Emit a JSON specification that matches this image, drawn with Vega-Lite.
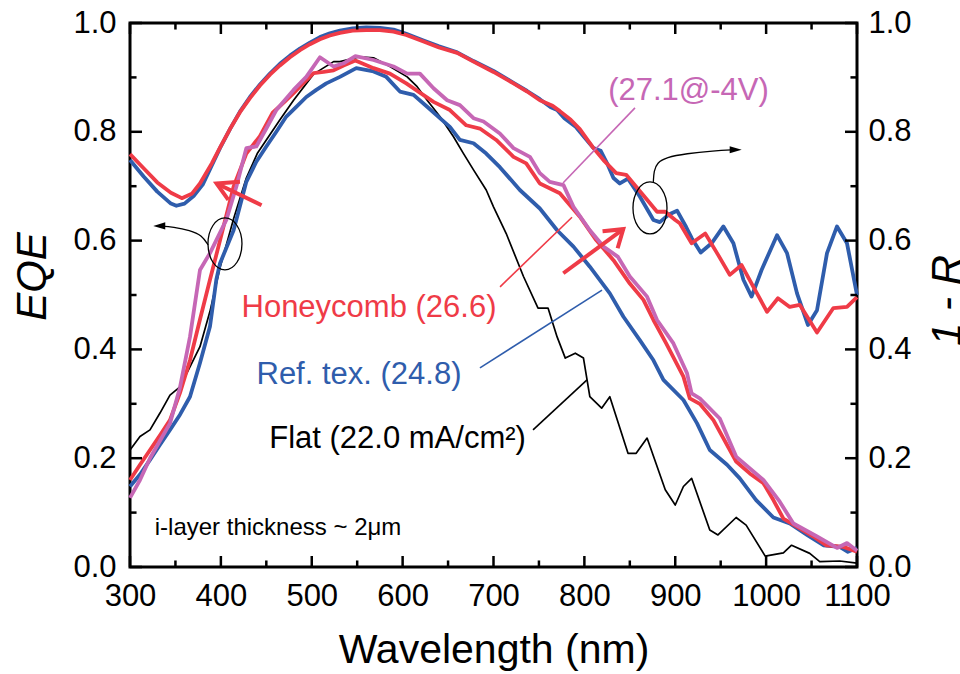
{
"$schema": "https://vega.github.io/schema/vega-lite/v6.json",
"width": 727, "height": 544,
"autosize": {"type": "none"},
"padding": {"left": 130, "top": 23, "right": 103, "bottom": 107},
"background": "white",
"config": {"view": {"stroke": "#000000", "strokeWidth": 3}, "font": "Liberation Sans", "axis": {"grid": false, "tickColor": "#000000", "domainColor": "transparent", "labelColor": "#000000", "titleColor": "#000000"}},
"resolve": {"axis": {"x": "independent", "y": "independent"}},
"datasets": {
"eqe": [
{"s":"flat","wl":300,"v":0.215},{"s":"flat","wl":311,"v":0.240},{"s":"flat","wl":322,"v":0.252},{"s":"flat","wl":333,"v":0.283},{"s":"flat","wl":344,"v":0.316},{"s":"flat","wl":355,"v":0.331},{"s":"flat","wl":366,"v":0.368},{"s":"flat","wl":377,"v":0.405},{"s":"flat","wl":388,"v":0.47},{"s":"flat","wl":399,"v":0.55},{"s":"flat","wl":414,"v":0.64},{"s":"flat","wl":428,"v":0.715},{"s":"flat","wl":440,"v":0.760},{"s":"flat","wl":450,"v":0.785},{"s":"flat","wl":465,"v":0.822},{"s":"flat","wl":480,"v":0.858},{"s":"flat","wl":502,"v":0.906},{"s":"flat","wl":524,"v":0.929},{"s":"flat","wl":531,"v":0.929},{"s":"flat","wl":553,"v":0.938},{"s":"flat","wl":568,"v":0.936},{"s":"flat","wl":586,"v":0.920},{"s":"flat","wl":605,"v":0.901},{"s":"flat","wl":616,"v":0.883},{"s":"flat","wl":627,"v":0.858},{"s":"flat","wl":641,"v":0.828},{"s":"flat","wl":656,"v":0.791},{"s":"flat","wl":667,"v":0.760},{"s":"flat","wl":678,"v":0.730},{"s":"flat","wl":692,"v":0.693},{"s":"flat","wl":700,"v":0.662},{"s":"flat","wl":714,"v":0.613},{"s":"flat","wl":733,"v":0.534},{"s":"flat","wl":749,"v":0.476},{"s":"flat","wl":760,"v":0.476},{"s":"flat","wl":770,"v":0.423},{"s":"flat","wl":779,"v":0.384},{"s":"flat","wl":790,"v":0.393},{"s":"flat","wl":799,"v":0.384},{"s":"flat","wl":806,"v":0.313},{"s":"flat","wl":819,"v":0.292},{"s":"flat","wl":828,"v":0.313},{"s":"flat","wl":848,"v":0.209},{"s":"flat","wl":857,"v":0.209},{"s":"flat","wl":869,"v":0.237},{"s":"flat","wl":889,"v":0.142},{"s":"flat","wl":900,"v":0.114},{"s":"flat","wl":909,"v":0.148},{"s":"flat","wl":918,"v":0.163},{"s":"flat","wl":938,"v":0.068},{"s":"flat","wl":947,"v":0.059},{"s":"flat","wl":967,"v":0.091},{"s":"flat","wl":978,"v":0.077},{"s":"flat","wl":999,"v":0.020},{"s":"flat","wl":1019,"v":0.026},{"s":"flat","wl":1028,"v":0.040},{"s":"flat","wl":1048,"v":0.025},{"s":"flat","wl":1059,"v":0.010},{"s":"flat","wl":1081,"v":0.011},{"s":"flat","wl":1100,"v":0.007},
{"s":"ref","wl":300,"v":0.148},{"s":"ref","wl":311,"v":0.170},{"s":"ref","wl":322,"v":0.197},{"s":"ref","wl":333,"v":0.225},{"s":"ref","wl":344,"v":0.252},{"s":"ref","wl":355,"v":0.280},{"s":"ref","wl":366,"v":0.313},{"s":"ref","wl":377,"v":0.375},{"s":"ref","wl":388,"v":0.442},{"s":"ref","wl":395,"v":0.528},{"s":"ref","wl":399,"v":0.558},{"s":"ref","wl":414,"v":0.619},{"s":"ref","wl":428,"v":0.708},{"s":"ref","wl":439,"v":0.745},{"s":"ref","wl":450,"v":0.773},{"s":"ref","wl":461,"v":0.800},{"s":"ref","wl":472,"v":0.828},{"s":"ref","wl":483,"v":0.846},{"s":"ref","wl":494,"v":0.864},{"s":"ref","wl":505,"v":0.877},{"s":"ref","wl":516,"v":0.889},{"s":"ref","wl":531,"v":0.901},{"s":"ref","wl":549,"v":0.917},{"s":"ref","wl":568,"v":0.911},{"s":"ref","wl":582,"v":0.901},{"s":"ref","wl":597,"v":0.874},{"s":"ref","wl":612,"v":0.868},{"s":"ref","wl":627,"v":0.846},{"s":"ref","wl":641,"v":0.825},{"s":"ref","wl":652,"v":0.809},{"s":"ref","wl":663,"v":0.785},{"s":"ref","wl":678,"v":0.779},{"s":"ref","wl":692,"v":0.760},{"s":"ref","wl":707,"v":0.735},{"s":"ref","wl":729,"v":0.693},{"s":"ref","wl":751,"v":0.659},{"s":"ref","wl":770,"v":0.619},{"s":"ref","wl":788,"v":0.589},{"s":"ref","wl":806,"v":0.552},{"s":"ref","wl":828,"v":0.503},{"s":"ref","wl":843,"v":0.460},{"s":"ref","wl":861,"v":0.417},{"s":"ref","wl":876,"v":0.380},{"s":"ref","wl":887,"v":0.344},{"s":"ref","wl":909,"v":0.307},{"s":"ref","wl":924,"v":0.264},{"s":"ref","wl":938,"v":0.215},{"s":"ref","wl":957,"v":0.188},{"s":"ref","wl":971,"v":0.163},{"s":"ref","wl":989,"v":0.123},{"s":"ref","wl":1008,"v":0.091},{"s":"ref","wl":1026,"v":0.080},{"s":"ref","wl":1045,"v":0.059},{"s":"ref","wl":1063,"v":0.040},{"s":"ref","wl":1081,"v":0.037},{"s":"ref","wl":1090,"v":0.028},{"s":"ref","wl":1100,"v":0.035},
{"s":"honey","wl":300,"v":0.160},{"s":"honey","wl":311,"v":0.188},{"s":"honey","wl":322,"v":0.215},{"s":"honey","wl":333,"v":0.242},{"s":"honey","wl":344,"v":0.270},{"s":"honey","wl":355,"v":0.320},{"s":"honey","wl":366,"v":0.380},{"s":"honey","wl":377,"v":0.455},{"s":"honey","wl":388,"v":0.528},{"s":"honey","wl":399,"v":0.600},{"s":"honey","wl":414,"v":0.699},{"s":"honey","wl":428,"v":0.760},{"s":"honey","wl":443,"v":0.792},{"s":"honey","wl":457,"v":0.835},{"s":"honey","wl":470,"v":0.855},{"s":"honey","wl":480,"v":0.871},{"s":"honey","wl":491,"v":0.890},{"s":"honey","wl":502,"v":0.908},{"s":"honey","wl":513,"v":0.910},{"s":"honey","wl":524,"v":0.913},{"s":"honey","wl":535,"v":0.922},{"s":"honey","wl":548,"v":0.931},{"s":"honey","wl":568,"v":0.917},{"s":"honey","wl":586,"v":0.907},{"s":"honey","wl":604,"v":0.889},{"s":"honey","wl":619,"v":0.872},{"s":"honey","wl":634,"v":0.855},{"s":"honey","wl":652,"v":0.840},{"s":"honey","wl":670,"v":0.812},{"s":"honey","wl":685,"v":0.806},{"s":"honey","wl":703,"v":0.785},{"s":"honey","wl":722,"v":0.754},{"s":"honey","wl":736,"v":0.742},{"s":"honey","wl":751,"v":0.705},{"s":"honey","wl":773,"v":0.687},{"s":"honey","wl":795,"v":0.644},{"s":"honey","wl":813,"v":0.601},{"s":"honey","wl":832,"v":0.564},{"s":"honey","wl":850,"v":0.521},{"s":"honey","wl":865,"v":0.491},{"s":"honey","wl":876,"v":0.454},{"s":"honey","wl":890,"v":0.411},{"s":"honey","wl":909,"v":0.350},{"s":"honey","wl":916,"v":0.310},{"s":"honey","wl":927,"v":0.300},{"s":"honey","wl":942,"v":0.270},{"s":"honey","wl":967,"v":0.194},{"s":"honey","wl":982,"v":0.172},{"s":"honey","wl":997,"v":0.154},{"s":"honey","wl":1008,"v":0.123},{"s":"honey","wl":1019,"v":0.089},{"s":"honey","wl":1037,"v":0.071},{"s":"honey","wl":1052,"v":0.056},{"s":"honey","wl":1066,"v":0.040},{"s":"honey","wl":1085,"v":0.037},{"s":"honey","wl":1100,"v":0.028},
{"s":"bias","wl":300,"v":0.127},{"s":"bias","wl":311,"v":0.160},{"s":"bias","wl":322,"v":0.200},{"s":"bias","wl":333,"v":0.232},{"s":"bias","wl":344,"v":0.264},{"s":"bias","wl":355,"v":0.330},{"s":"bias","wl":366,"v":0.423},{"s":"bias","wl":377,"v":0.546},{"s":"bias","wl":388,"v":0.577},{"s":"bias","wl":406,"v":0.638},{"s":"bias","wl":417,"v":0.699},{"s":"bias","wl":428,"v":0.770},{"s":"bias","wl":439,"v":0.773},{"s":"bias","wl":450,"v":0.806},{"s":"bias","wl":461,"v":0.840},{"s":"bias","wl":480,"v":0.877},{"s":"bias","wl":494,"v":0.901},{"s":"bias","wl":509,"v":0.937},{"s":"bias","wl":524,"v":0.920},{"s":"bias","wl":535,"v":0.926},{"s":"bias","wl":548,"v":0.939},{"s":"bias","wl":568,"v":0.932},{"s":"bias","wl":590,"v":0.920},{"s":"bias","wl":605,"v":0.907},{"s":"bias","wl":619,"v":0.907},{"s":"bias","wl":634,"v":0.880},{"s":"bias","wl":649,"v":0.858},{"s":"bias","wl":663,"v":0.849},{"s":"bias","wl":678,"v":0.825},{"s":"bias","wl":689,"v":0.819},{"s":"bias","wl":707,"v":0.797},{"s":"bias","wl":722,"v":0.770},{"s":"bias","wl":740,"v":0.754},{"s":"bias","wl":751,"v":0.724},{"s":"bias","wl":762,"v":0.708},{"s":"bias","wl":777,"v":0.702},{"s":"bias","wl":788,"v":0.662},{"s":"bias","wl":806,"v":0.619},{"s":"bias","wl":821,"v":0.589},{"s":"bias","wl":837,"v":0.570},{"s":"bias","wl":850,"v":0.534},{"s":"bias","wl":869,"v":0.497},{"s":"bias","wl":880,"v":0.454},{"s":"bias","wl":898,"v":0.411},{"s":"bias","wl":913,"v":0.356},{"s":"bias","wl":918,"v":0.319},{"s":"bias","wl":927,"v":0.310},{"s":"bias","wl":949,"v":0.273},{"s":"bias","wl":967,"v":0.203},{"s":"bias","wl":997,"v":0.160},{"s":"bias","wl":1015,"v":0.120},{"s":"bias","wl":1030,"v":0.080},{"s":"bias","wl":1056,"v":0.056},{"s":"bias","wl":1078,"v":0.035},{"s":"bias","wl":1089,"v":0.044},{"s":"bias","wl":1100,"v":0.030}
],
"refl": [
{"s":"ref","wl":300,"v":0.748},{"s":"ref","wl":315,"v":0.718},{"s":"ref","wl":330,"v":0.690},{"s":"ref","wl":345,"v":0.668},{"s":"ref","wl":351,"v":0.664},{"s":"ref","wl":360,"v":0.668},{"s":"ref","wl":370,"v":0.682},{"s":"ref","wl":380,"v":0.703},{"s":"ref","wl":390,"v":0.738},{"s":"ref","wl":399,"v":0.770},{"s":"ref","wl":410,"v":0.805},{"s":"ref","wl":421,"v":0.837},{"s":"ref","wl":432,"v":0.864},{"s":"ref","wl":443,"v":0.887},{"s":"ref","wl":454,"v":0.907},{"s":"ref","wl":465,"v":0.925},{"s":"ref","wl":476,"v":0.940},{"s":"ref","wl":487,"v":0.953},{"s":"ref","wl":498,"v":0.964},{"s":"ref","wl":509,"v":0.974},{"s":"ref","wl":520,"v":0.981},{"s":"ref","wl":531,"v":0.986},{"s":"ref","wl":545,"v":0.990},{"s":"ref","wl":560,"v":0.992},{"s":"ref","wl":575,"v":0.991},{"s":"ref","wl":590,"v":0.988},{"s":"ref","wl":604,"v":0.980},{"s":"ref","wl":623,"v":0.968},{"s":"ref","wl":640,"v":0.957},{"s":"ref","wl":660,"v":0.946},{"s":"ref","wl":678,"v":0.930},{"s":"ref","wl":700,"v":0.912},{"s":"ref","wl":722,"v":0.890},{"s":"ref","wl":737,"v":0.875},{"s":"ref","wl":751,"v":0.860},{"s":"ref","wl":763,"v":0.845},{"s":"ref","wl":770,"v":0.840},{"s":"ref","wl":778,"v":0.825},{"s":"ref","wl":790,"v":0.810},{"s":"ref","wl":800,"v":0.790},{"s":"ref","wl":810,"v":0.770},{"s":"ref","wl":818,"v":0.765},{"s":"ref","wl":825,"v":0.742},{"s":"ref","wl":832,"v":0.715},{"s":"ref","wl":839,"v":0.705},{"s":"ref","wl":848,"v":0.714},{"s":"ref","wl":861,"v":0.681},{"s":"ref","wl":876,"v":0.638},{"s":"ref","wl":883,"v":0.634},{"s":"ref","wl":893,"v":0.648},{"s":"ref","wl":902,"v":0.655},{"s":"ref","wl":912,"v":0.625},{"s":"ref","wl":918,"v":0.605},{"s":"ref","wl":928,"v":0.578},{"s":"ref","wl":940,"v":0.595},{"s":"ref","wl":953,"v":0.626},{"s":"ref","wl":964,"v":0.595},{"s":"ref","wl":975,"v":0.528},{"s":"ref","wl":984,"v":0.497},{"s":"ref","wl":995,"v":0.546},{"s":"ref","wl":1012,"v":0.610},{"s":"ref","wl":1023,"v":0.577},{"s":"ref","wl":1034,"v":0.503},{"s":"ref","wl":1046,"v":0.445},{"s":"ref","wl":1056,"v":0.472},{"s":"ref","wl":1067,"v":0.577},{"s":"ref","wl":1078,"v":0.626},{"s":"ref","wl":1089,"v":0.595},{"s":"ref","wl":1100,"v":0.500},
{"s":"honey","wl":300,"v":0.759},{"s":"honey","wl":315,"v":0.733},{"s":"honey","wl":330,"v":0.707},{"s":"honey","wl":345,"v":0.688},{"s":"honey","wl":357,"v":0.678},{"s":"honey","wl":368,"v":0.686},{"s":"honey","wl":377,"v":0.705},{"s":"honey","wl":390,"v":0.742},{"s":"honey","wl":399,"v":0.771},{"s":"honey","wl":410,"v":0.805},{"s":"honey","wl":421,"v":0.836},{"s":"honey","wl":432,"v":0.862},{"s":"honey","wl":443,"v":0.885},{"s":"honey","wl":454,"v":0.905},{"s":"honey","wl":465,"v":0.922},{"s":"honey","wl":476,"v":0.937},{"s":"honey","wl":487,"v":0.950},{"s":"honey","wl":498,"v":0.961},{"s":"honey","wl":509,"v":0.970},{"s":"honey","wl":520,"v":0.977},{"s":"honey","wl":531,"v":0.982},{"s":"honey","wl":545,"v":0.986},{"s":"honey","wl":560,"v":0.987},{"s":"honey","wl":575,"v":0.987},{"s":"honey","wl":590,"v":0.984},{"s":"honey","wl":604,"v":0.978},{"s":"honey","wl":623,"v":0.966},{"s":"honey","wl":640,"v":0.955},{"s":"honey","wl":660,"v":0.945},{"s":"honey","wl":678,"v":0.929},{"s":"honey","wl":700,"v":0.910},{"s":"honey","wl":722,"v":0.889},{"s":"honey","wl":737,"v":0.874},{"s":"honey","wl":751,"v":0.858},{"s":"honey","wl":765,"v":0.848},{"s":"honey","wl":773,"v":0.838},{"s":"honey","wl":785,"v":0.822},{"s":"honey","wl":795,"v":0.805},{"s":"honey","wl":810,"v":0.770},{"s":"honey","wl":821,"v":0.748},{"s":"honey","wl":835,"v":0.724},{"s":"honey","wl":846,"v":0.721},{"s":"honey","wl":857,"v":0.699},{"s":"honey","wl":869,"v":0.675},{"s":"honey","wl":880,"v":0.653},{"s":"honey","wl":889,"v":0.653},{"s":"honey","wl":900,"v":0.638},{"s":"honey","wl":905,"v":0.632},{"s":"honey","wl":918,"v":0.595},{"s":"honey","wl":933,"v":0.613},{"s":"honey","wl":946,"v":0.577},{"s":"honey","wl":960,"v":0.537},{"s":"honey","wl":973,"v":0.555},{"s":"honey","wl":986,"v":0.515},{"s":"honey","wl":1001,"v":0.469},{"s":"honey","wl":1013,"v":0.494},{"s":"honey","wl":1026,"v":0.478},{"s":"honey","wl":1037,"v":0.482},{"s":"honey","wl":1056,"v":0.431},{"s":"honey","wl":1074,"v":0.476},{"s":"honey","wl":1089,"v":0.478},{"s":"honey","wl":1100,"v":0.496}
],
"xticks": [
{"kind":"major","wl":300},{"kind":"major","wl":400},{"kind":"major","wl":500},{"kind":"major","wl":600},{"kind":"major","wl":700},{"kind":"major","wl":800},{"kind":"major","wl":900},{"kind":"major","wl":1000},{"kind":"major","wl":1100},
{"kind":"minor","wl":350},{"kind":"minor","wl":450},{"kind":"minor","wl":550},{"kind":"minor","wl":650},{"kind":"minor","wl":750},{"kind":"minor","wl":850},{"kind":"minor","wl":950},{"kind":"minor","wl":1050}
],
"yticks": [
{"kind":"major","v":0},{"kind":"major","v":0.2},{"kind":"major","v":0.4},{"kind":"major","v":0.6},{"kind":"major","v":0.8},{"kind":"major","v":1.0},
{"kind":"minor","v":0.1},{"kind":"minor","v":0.3},{"kind":"minor","v":0.5},{"kind":"minor","v":0.7},{"kind":"minor","v":0.9}
],
"leaders": [
{"s":"bias","k":0,"wl":776.5,"v":0.706},{"s":"bias","k":1,"wl":855.7,"v":0.844},
{"s":"honey","k":0,"wl":707.2,"v":0.515},{"s":"honey","k":1,"wl":786.4,"v":0.643},
{"s":"ref","k":0,"wl":685.1,"v":0.366},{"s":"ref","k":1,"wl":819.4,"v":0.509},
{"s":"flat","k":0,"wl":743.5,"v":0.252},{"s":"flat","k":1,"wl":802.9,"v":0.344}
],
"redarrows": [
{"seg":"a","k":0,"wl":444.8,"v":0.665},{"seg":"a","k":1,"wl":395.3,"v":0.705},
{"seg":"b","k":0,"wl":421,"v":0.708},{"seg":"b","k":1,"wl":395.3,"v":0.705},{"seg":"b","k":2,"wl":408.2,"v":0.675},
{"seg":"c","k":0,"wl":776.8,"v":0.540},{"seg":"c","k":1,"wl":842.8,"v":0.621},
{"seg":"d","k":0,"wl":820,"v":0.617},{"seg":"d","k":1,"wl":842.8,"v":0.621},{"seg":"d","k":2,"wl":836.6,"v":0.586}
],
"curvedarrows": [
{"seg":"L","k":0,"wl":386,"v":0.592},{"seg":"L","k":1,"wl":379,"v":0.610},{"seg":"L","k":2,"wl":366,"v":0.619},{"seg":"L","k":3,"wl":348,"v":0.625},{"seg":"L","k":4,"wl":332,"v":0.627},
{"seg":"R","k":0,"wl":875.9,"v":0.708},{"seg":"R","k":1,"wl":876.5,"v":0.728},{"seg":"R","k":2,"wl":880,"v":0.743},{"seg":"R","k":3,"wl":890,"v":0.753},{"seg":"R","k":4,"wl":912,"v":0.760},{"seg":"R","k":5,"wl":942,"v":0.765},{"seg":"R","k":6,"wl":966,"v":0.767}
],
"heads": [
{"dir":"left","wl":332.2,"v":0.627},{"dir":"right","wl":966.5,"v":0.767}
],
"ellipses": [
{"wl":404.5,"v":0.594},{"wl":872.2,"v":0.660}
],
"labels": [
{"s":"honey","wl":563,"v":0.460,"label":"Honeycomb (26.6)"},
{"s":"ref","wl":552,"v":0.336,"label":"Ref. tex. (24.8)"},
{"s":"flat","wl":594.4,"v":0.218,"label":"Flat (22.0 mA/cm²)"},
{"s":"bias","wl":914.6,"v":0.858,"label":"(27.1@-4V)"}
],
"note": [
{"wl":462.9,"v":0.059,"label":"i-layer thickness ~ 2μm"}
]
},
"layer": [
{
"data": {"name": "eqe"},
"transform": [{"filter": "datum.s === 'flat'"}],
"mark": {"type": "line", "color": "#000000", "strokeWidth": 1.7, "strokeJoin": "round"},
"encoding": {
"x": {"field": "wl", "type": "quantitative", "scale": {"domain": [300, 1100], "nice": false, "zero": false},
"axis": {"orient": "bottom", "values": [300,400,500,600,700,800,900,1000,1100], "format": "d", "tickSize": 0,
"labelPadding": 14, "labelFontSize": 31, "labelFont": "Liberation Sans", "labelOverlap": false, "labelFlush": false, "labelBound": false,
"title": "Wavelength (nm)", "titleFontSize": 41, "titleFont": "Liberation Sans", "titleFontWeight": "normal", "titleY": 95, "titleBaseline": "alphabetic"}},
"y": {"field": "v", "type": "quantitative", "scale": {"domain": [0, 1], "nice": false, "zero": false},
"axis": {"orient": "left", "values": [0,0.2,0.4,0.6,0.8,1.0], "format": ".1f", "tickSize": 0,
"labelPadding": 14, "labelFontSize": 31, "labelFont": "Liberation Sans", "labelOverlap": false, "labelFlush": false, "labelBound": false,
"title": "EQE", "titleFontSize": 42, "titleFont": "Liberation Sans", "titleFontWeight": "normal", "titleFontStyle": "italic",
"titleAngle": 270, "titleX": -98, "titleY": 253, "titleAlign": "center", "titleBaseline": "middle"}}
}
},
{
"data": {"name": "refl"},
"transform": [{"filter": "datum.s === 'ref'"}],
"mark": {"type": "line", "color": "#2F5DAC", "strokeWidth": 3.8, "strokeJoin": "round"},
"encoding": {
"x": {"field": "wl", "type": "quantitative", "scale": {"domain": [300, 1100], "nice": false, "zero": false}, "axis": null},
"y": {"field": "v", "type": "quantitative", "scale": {"domain": [0, 1], "nice": false, "zero": false},
"axis": {"orient": "right", "values": [0,0.2,0.4,0.6,0.8,1.0], "format": ".1f", "tickSize": 0,
"labelPadding": 11, "labelFontSize": 31, "labelFont": "Liberation Sans", "labelOverlap": false, "labelFlush": false, "labelBound": false,
"title": "1 - R", "titleFontSize": 42, "titleFont": "Liberation Sans", "titleFontWeight": "normal", "titleFontStyle": "italic",
"titleAngle": 270, "titleX": 90, "titleY": 277, "titleAlign": "center", "titleBaseline": "middle"}}
}
},
{
"data": {"name": "refl"},
"transform": [{"filter": "datum.s === 'honey'"}],
"mark": {"type": "line", "color": "#EF3B47", "strokeWidth": 3.8, "strokeJoin": "round"},
"encoding": {
"x": {"field": "wl", "type": "quantitative", "scale": {"domain": [300, 1100], "nice": false, "zero": false}, "axis": null},
"y": {"field": "v", "type": "quantitative", "scale": {"domain": [0, 1], "nice": false, "zero": false}, "axis": null}
}
},
{
"data": {"name": "eqe"},
"transform": [{"filter": "datum.s === 'ref'"}],
"mark": {"type": "line", "color": "#2F5DAC", "strokeWidth": 3.8, "strokeJoin": "round"},
"encoding": {
"x": {"field": "wl", "type": "quantitative", "scale": {"domain": [300, 1100], "nice": false, "zero": false}, "axis": null},
"y": {"field": "v", "type": "quantitative", "scale": {"domain": [0, 1], "nice": false, "zero": false}, "axis": null}
}
},
{
"data": {"name": "eqe"},
"transform": [{"filter": "datum.s === 'honey'"}],
"mark": {"type": "line", "color": "#EF3B47", "strokeWidth": 3.8, "strokeJoin": "round"},
"encoding": {
"x": {"field": "wl", "type": "quantitative", "scale": {"domain": [300, 1100], "nice": false, "zero": false}, "axis": null},
"y": {"field": "v", "type": "quantitative", "scale": {"domain": [0, 1], "nice": false, "zero": false}, "axis": null}
}
},
{
"data": {"name": "eqe"},
"transform": [{"filter": "datum.s === 'bias'"}],
"mark": {"type": "line", "color": "#C667B5", "strokeWidth": 3.8, "strokeJoin": "round"},
"encoding": {
"x": {"field": "wl", "type": "quantitative", "scale": {"domain": [300, 1100], "nice": false, "zero": false}, "axis": null},
"y": {"field": "v", "type": "quantitative", "scale": {"domain": [0, 1], "nice": false, "zero": false}, "axis": null}
}
},
{
"data": {"name": "leaders"},
"mark": {"type": "line", "strokeWidth": 1.6},
"encoding": {
"x": {"field": "wl", "type": "quantitative", "scale": {"domain": [300, 1100], "nice": false, "zero": false}, "axis": null},
"y": {"field": "v", "type": "quantitative", "scale": {"domain": [0, 1], "nice": false, "zero": false}, "axis": null},
"order": {"field": "k"},
"color": {"field": "s", "type": "nominal", "scale": {"domain": ["flat","ref","honey","bias"], "range": ["#000000","#2F5DAC","#EF3B47","#C667B5"]}, "legend": null}
}
},
{
"data": {"name": "redarrows"},
"mark": {"type": "line", "strokeWidth": 4, "color": "#EF3B47", "strokeJoin": "miter"},
"encoding": {
"x": {"field": "wl", "type": "quantitative", "scale": {"domain": [300, 1100], "nice": false, "zero": false}, "axis": null},
"y": {"field": "v", "type": "quantitative", "scale": {"domain": [0, 1], "nice": false, "zero": false}, "axis": null},
"order": {"field": "k"},
"detail": {"field": "seg", "type": "nominal"}
}
},
{
"data": {"name": "curvedarrows"},
"mark": {"type": "line", "strokeWidth": 1.3, "color": "#000000", "interpolate": "basis"},
"encoding": {
"x": {"field": "wl", "type": "quantitative", "scale": {"domain": [300, 1100], "nice": false, "zero": false}, "axis": null},
"y": {"field": "v", "type": "quantitative", "scale": {"domain": [0, 1], "nice": false, "zero": false}, "axis": null},
"order": {"field": "k"},
"detail": {"field": "seg", "type": "nominal"}
}
},
{
"data": {"name": "heads"},
"mark": {"type": "point", "filled": true, "color": "#000000", "size": 144, "opacity": 1},
"encoding": {
"x": {"field": "wl", "type": "quantitative", "scale": {"domain": [300, 1100], "nice": false, "zero": false}, "axis": null},
"y": {"field": "v", "type": "quantitative", "scale": {"domain": [0, 1], "nice": false, "zero": false}, "axis": null},
"shape": {"field": "dir", "type": "nominal", "scale": {"domain": ["left","right"], "range": ["M -1 0 L 1 -0.6 L 1 0.6 Z", "M 1 0 L -1 -0.6 L -1 0.6 Z"]}, "legend": null}
}
},
{
"data": {"name": "ellipses"},
"mark": {"type": "point", "filled": false, "color": "#000000", "strokeWidth": 1.3, "size": 2704, "opacity": 1,
"shape": "M 0.654 0 C 0.654 0.552 0.361 1 0 1 C -0.361 1 -0.654 0.552 -0.654 0 C -0.654 -0.552 -0.361 -1 0 -1 C 0.361 -1 0.654 -0.552 0.654 0 Z"},
"encoding": {
"x": {"field": "wl", "type": "quantitative", "scale": {"domain": [300, 1100], "nice": false, "zero": false}, "axis": null},
"y": {"field": "v", "type": "quantitative", "scale": {"domain": [0, 1], "nice": false, "zero": false}, "axis": null}
}
},
{
"data": {"name": "labels"},
"mark": {"type": "text", "font": "Liberation Sans", "fontSize": 31, "align": "center", "baseline": "alphabetic"},
"encoding": {
"x": {"field": "wl", "type": "quantitative", "scale": {"domain": [300, 1100], "nice": false, "zero": false}, "axis": null},
"y": {"field": "v", "type": "quantitative", "scale": {"domain": [0, 1], "nice": false, "zero": false}, "axis": null},
"text": {"field": "label"},
"color": {"field": "s", "type": "nominal", "scale": {"domain": ["flat","ref","honey","bias"], "range": ["#000000","#2F5DAC","#EF3B47","#C667B5"]}, "legend": null}
}
},
{
"data": {"name": "note"},
"mark": {"type": "text", "font": "Liberation Sans", "fontSize": 24, "align": "center", "baseline": "alphabetic", "color": "#000000"},
"encoding": {
"x": {"field": "wl", "type": "quantitative", "scale": {"domain": [300, 1100], "nice": false, "zero": false}, "axis": null},
"y": {"field": "v", "type": "quantitative", "scale": {"domain": [0, 1], "nice": false, "zero": false}, "axis": null},
"text": {"field": "label"}
}
},
{
"data": {"name": "xticks"},
"transform": [{"filter": "datum.kind === 'major'"}],
"mark": {"type": "rule", "color": "#000000", "strokeWidth": 2.5},
"encoding": {
"x": {"field": "wl", "type": "quantitative", "scale": {"domain": [300, 1100], "nice": false, "zero": false}, "axis": null},
"y": {"datum": 0, "type": "quantitative", "axis": null},
"y2": {"datum": 0.0202}
}
},
{
"data": {"name": "xticks"},
"transform": [{"filter": "datum.kind === 'major'"}],
"mark": {"type": "rule", "color": "#000000", "strokeWidth": 2.5},
"encoding": {
"x": {"field": "wl", "type": "quantitative", "scale": {"domain": [300, 1100], "nice": false, "zero": false}, "axis": null},
"y": {"datum": 1, "type": "quantitative", "axis": null},
"y2": {"datum": 0.9798}
}
},
{
"data": {"name": "xticks"},
"transform": [{"filter": "datum.kind === 'minor'"}],
"mark": {"type": "rule", "color": "#000000", "strokeWidth": 2.5},
"encoding": {
"x": {"field": "wl", "type": "quantitative", "scale": {"domain": [300, 1100], "nice": false, "zero": false}, "axis": null},
"y": {"datum": 0, "type": "quantitative", "axis": null},
"y2": {"datum": 0.012}
}
},
{
"data": {"name": "xticks"},
"transform": [{"filter": "datum.kind === 'minor'"}],
"mark": {"type": "rule", "color": "#000000", "strokeWidth": 2.5},
"encoding": {
"x": {"field": "wl", "type": "quantitative", "scale": {"domain": [300, 1100], "nice": false, "zero": false}, "axis": null},
"y": {"datum": 1, "type": "quantitative", "axis": null},
"y2": {"datum": 0.988}
}
},
{
"data": {"name": "yticks"},
"transform": [{"filter": "datum.kind === 'major'"}],
"mark": {"type": "rule", "color": "#000000", "strokeWidth": 2.5},
"encoding": {
"y": {"field": "v", "type": "quantitative", "scale": {"domain": [0, 1], "nice": false, "zero": false}, "axis": null},
"x": {"datum": 300, "type": "quantitative", "axis": null},
"x2": {"datum": 313.2}
}
},
{
"data": {"name": "yticks"},
"transform": [{"filter": "datum.kind === 'major'"}],
"mark": {"type": "rule", "color": "#000000", "strokeWidth": 2.5},
"encoding": {
"y": {"field": "v", "type": "quantitative", "scale": {"domain": [0, 1], "nice": false, "zero": false}, "axis": null},
"x": {"datum": 1100, "type": "quantitative", "axis": null},
"x2": {"datum": 1086.8}
}
},
{
"data": {"name": "yticks"},
"transform": [{"filter": "datum.kind === 'minor'"}],
"mark": {"type": "rule", "color": "#000000", "strokeWidth": 2.5},
"encoding": {
"y": {"field": "v", "type": "quantitative", "scale": {"domain": [0, 1], "nice": false, "zero": false}, "axis": null},
"x": {"datum": 300, "type": "quantitative", "axis": null},
"x2": {"datum": 307.2}
}
},
{
"data": {"name": "yticks"},
"transform": [{"filter": "datum.kind === 'minor'"}],
"mark": {"type": "rule", "color": "#000000", "strokeWidth": 2.5},
"encoding": {
"y": {"field": "v", "type": "quantitative", "scale": {"domain": [0, 1], "nice": false, "zero": false}, "axis": null},
"x": {"datum": 1100, "type": "quantitative", "axis": null},
"x2": {"datum": 1092.8}
}
}
]
}
